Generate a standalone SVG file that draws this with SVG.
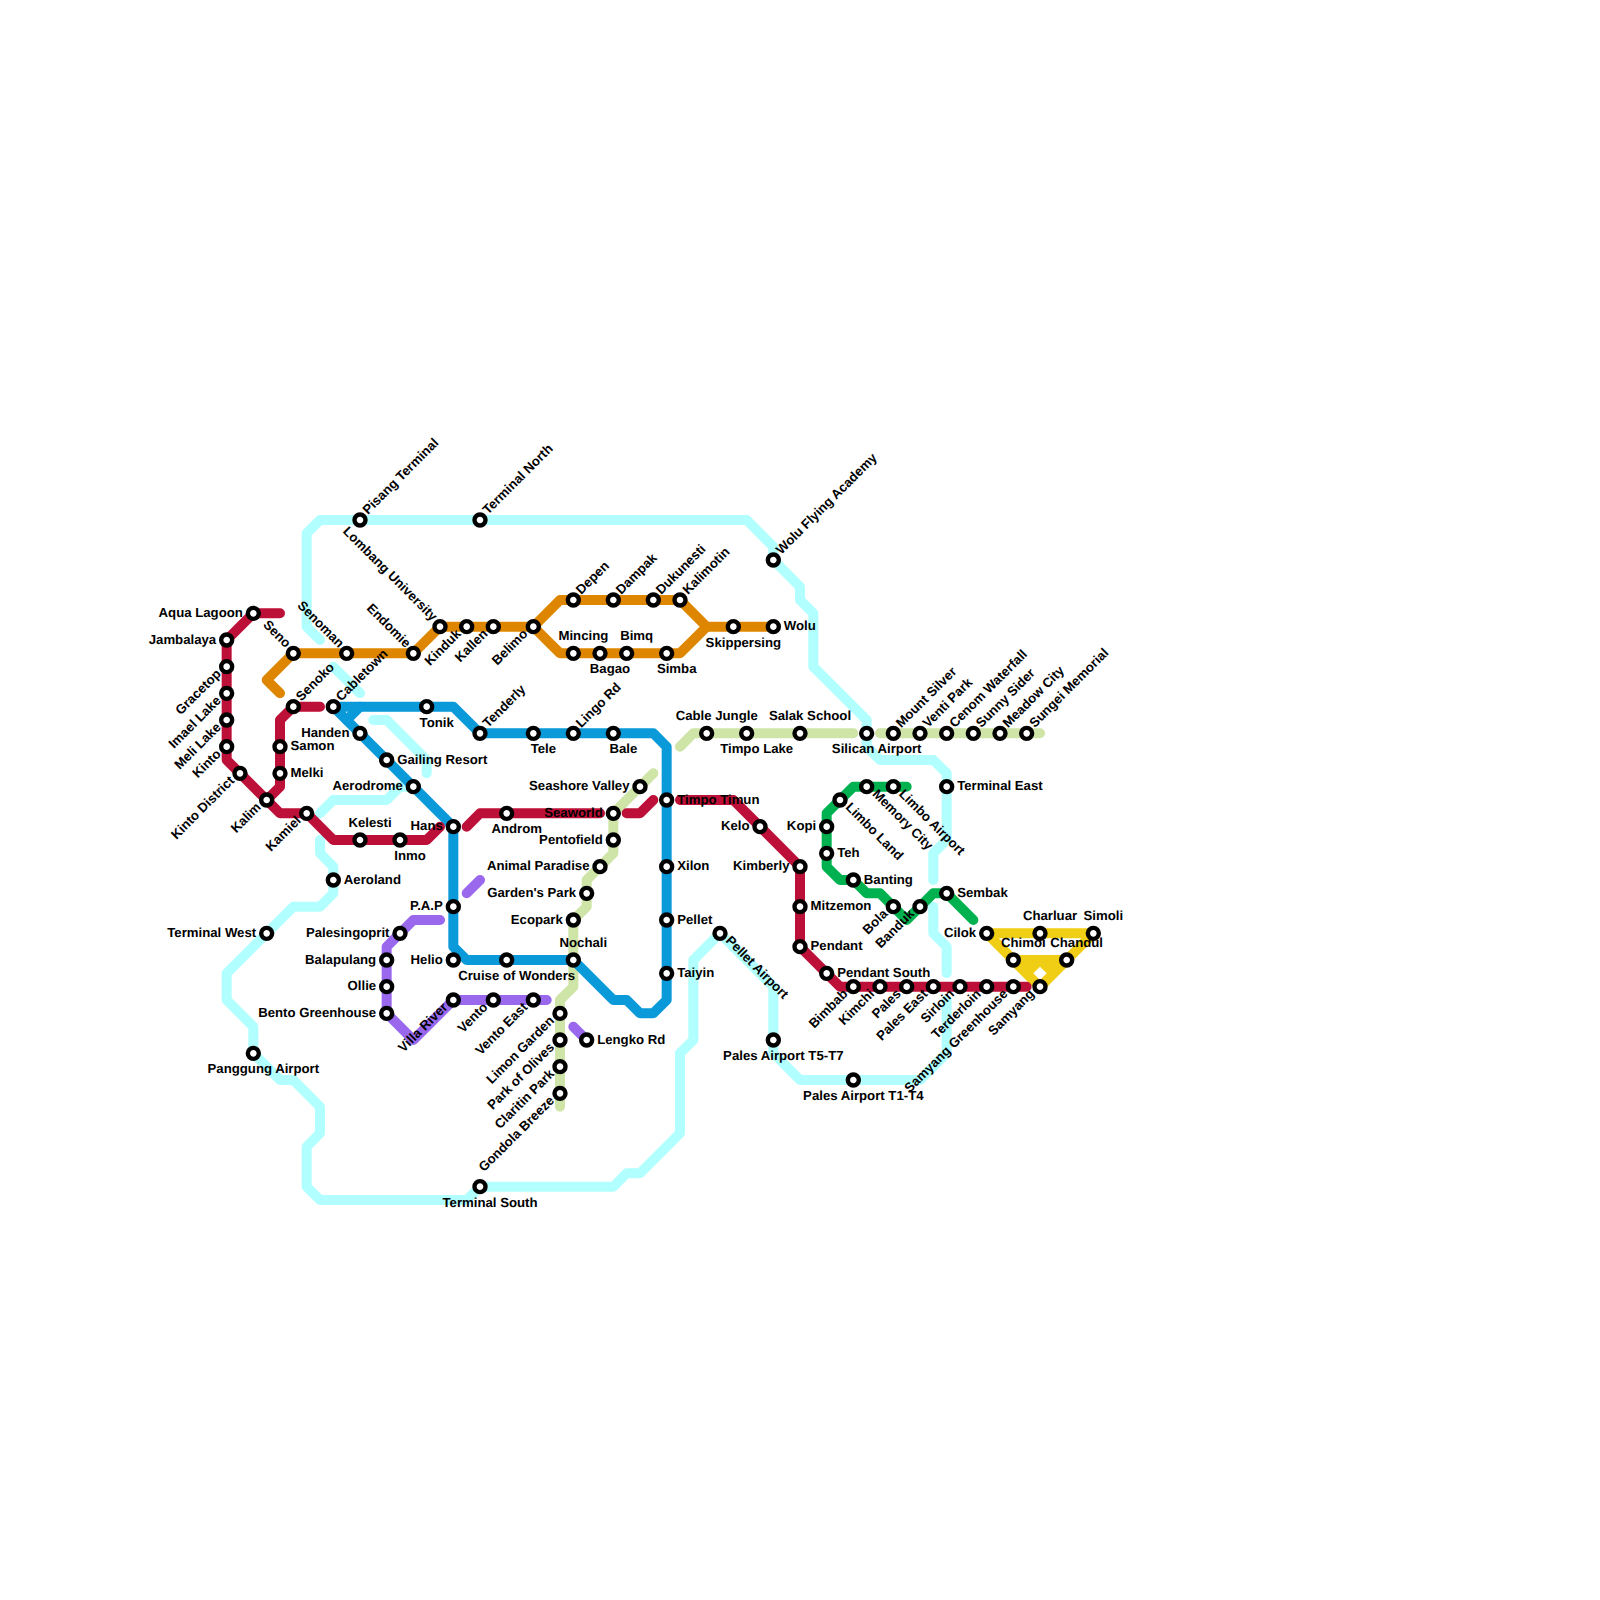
<svg xmlns="http://www.w3.org/2000/svg" width="1600" height="1600" viewBox="0 0 1600 1600">
<style>
.l{fill:none;stroke-width:.75;stroke-linecap:round;stroke-linejoin:round}
.st{fill:#fff;stroke:#000;stroke-width:4.4}
text{font-family:"Liberation Sans",Arial,sans-serif;font-weight:700;font-size:13.2px;fill:#000;text-rendering:geometricPrecision}
.r{transform:translate(10.5px,3.5px)}
.le{text-anchor:end;transform:translate(-10.5px,3.5px)}
.a{text-anchor:middle;transform:translate(10px,-13.3px)}
.b{text-anchor:middle;transform:translate(10px,20px)}
.ur{transform:translate(8px,-5px) rotate(-45deg)}
.ll{text-anchor:end;transform:translate(-5px,8px) rotate(-45deg)}
.ul{text-anchor:end;transform:translate(-8px,-5px) rotate(45deg)}
.lr{transform:translate(5px,8px) rotate(45deg)}
</style>
<defs><circle id="s" class="st" r="5.5"/></defs>
<g id="connectors" transform="scale(13.33333)">
<g stroke="#b1ffff" class="l">
<path d="M24 48L23 47V40L24 39H56L58 41V42L60 44V45L61 46V50L65 54V56L66 57H70L71 58V63L70 64V66"/>
<path d="M70 68V70L71 71V73"/>
<path d="M71 75V79L69 81H60L58 79V74L54 70L52 72V78L51 79V85L48 88H47L46 89H36L35 90H24L23 89V86L24 85V83L22 81H21L19 79V77L17 75V73L22 68H24L25 67V65L24 64V63"/>
<path d="M24 61L25 60H29L30 59H31"/>
<path d="M32 58V57L29 54H28"/>
<path d="M27 52L25 50"/>
</g>
<g stroke="#cfe4a7" class="l">
<path d="M51 56L52 55H64"/>
<path d="M66 55H78"/>
<path d="M49 58L46 61V64L44 66V68L43 69V74L42 75V83"/>
</g>
<g stroke="#f0ce15" class="l">
<path d="M74 70H82L78 74ZM76 72H80" />
<path d="M76 72H80L78 74Z" fill="#f0ce15"/>
<path d="M78 72.5L78.5 73L78 73.5L77.5 73Z" fill="#fff" stroke="none"/>
</g>
<g stroke="#9968ed" class="l">
<path d="M33 69H31L29 71V76L31 78L34 75H41"/>
<path d="M35 67L36 66"/>
<path d="M43 77L44 78"/>
</g>
<g stroke="#0a99d9" class="l">
<path d="M34 62L25 53H34L36 55H49L50 56V75L49 76H48L47 75H46L43 72H35L34 71Z"/>
<path d="M26 54L27 53"/>
</g>
<g stroke="#df8600" class="l">
<path d="M21 52L20 51L22 49H31L33 47H40L42 45H51L53 47H58"/>
<path d="M40 47L42 49H51L53 47"/>
</g>
<g stroke="#00b14f" class="l">
<path d="M68 59H64L62 61V65L63 66H64L65 67H66L68 69L70 67H71L73 69"/>
</g>
<g stroke="#bd1038" class="l">
<path d="M21 46H19L17 48V57L21 61H23L25 63H32L33 62"/>
<path d="M20 60L21 59V54L22 53H24"/>
<path d="M35 62L36 61H45"/>
<path d="M47 61H48L49 60"/>
<path d="M51 60H55L60 65V71L63 74H77"/>
</g>
</g>
<g id="nodes">
<g id="aqua-lagoon" transform="translate(253.33 613.33)"><use href="#s"/><text class="le">Aqua Lagoon</text></g>
<g id="jambalaya" transform="translate(226.67 640)"><use href="#s"/><text class="le">Jambalaya</text></g>
<g id="gracetop" transform="translate(226.67 666.67)"><use href="#s"/><text class="ll">Gracetop</text></g>
<g id="imael-lake" transform="translate(226.67 693.33)"><use href="#s"/><text class="ll">Imael Lake</text></g>
<g id="meli-lake" transform="translate(226.67 720)"><use href="#s"/><text class="ll">Meli Lake</text></g>
<g id="kinto" transform="translate(226.67 746.67)"><use href="#s"/><text class="ll">Kinto</text></g>
<g id="kinto-district" transform="translate(240 773.33)"><use href="#s"/><text class="ll">Kinto District</text></g>
<g id="kalim" transform="translate(266.67 800)"><use href="#s"/><text class="ll">Kalim</text></g>
<g id="samon" transform="translate(280 746.67)"><use href="#s"/><text class="r">Samon</text></g>
<g id="melki" transform="translate(280 773.33)"><use href="#s"/><text class="r">Melki</text></g>
<g id="senoko" transform="translate(293.33 706.67)"><use href="#s"/><text class="ur">Senoko</text></g>
<g id="cabletown" transform="translate(333.33 706.67)"><use href="#s"/><text class="ur">Cabletown</text></g>
<g id="handen" transform="translate(360 733.33)"><use href="#s"/><text class="le">Handen</text></g>
<g id="gailing-resort" transform="translate(386.67 760)"><use href="#s"/><text class="r">Gailing Resort</text></g>
<g id="aerodrome" transform="translate(413.33 786.67)"><use href="#s"/><text class="le">Aerodrome</text></g>
<g id="hans" transform="translate(453.33 826.67)"><use href="#s"/><text class="le">Hans</text></g>
<g id="kamiel" transform="translate(306.67 813.33)"><use href="#s"/><text class="ll">Kamiel</text></g>
<g id="seno" transform="translate(293.33 653.33)"><use href="#s"/><text class="ul">Seno</text></g>
<g id="senoman" transform="translate(346.67 653.33)"><use href="#s"/><text class="ul">Senoman</text></g>
<g id="endomie" transform="translate(413.33 653.33)"><use href="#s"/><text class="ul">Endomie</text></g>
<g id="lombang-university" transform="translate(440 626.67)"><use href="#s"/><text class="ul">Lombang University</text></g>
<g id="kinduk" transform="translate(466.67 626.67)"><use href="#s"/><text class="ll">Kinduk</text></g>
<g id="kallen" transform="translate(493.33 626.67)"><use href="#s"/><text class="ll">Kallen</text></g>
<g id="belimo" transform="translate(533.33 626.67)"><use href="#s"/><text class="ll">Belimo</text></g>
<g id="pisang-terminal" transform="translate(360 520)"><use href="#s"/><text class="ur">Pisang Terminal</text></g>
<g id="terminal-north" transform="translate(480 520)"><use href="#s"/><text class="ur">Terminal North</text></g>
<g id="tonik" transform="translate(426.67 706.67)"><use href="#s"/><text class="b">Tonik</text></g>
<g id="tenderly" transform="translate(480 733.33)"><use href="#s"/><text class="ur">Tenderly</text></g>
<g id="tele" transform="translate(533.33 733.33)"><use href="#s"/><text class="b">Tele</text></g>
<g id="lingo-rd" transform="translate(573.33 733.33)"><use href="#s"/><text class="ur">Lingo Rd</text></g>
<g id="bale" transform="translate(613.33 733.33)"><use href="#s"/><text class="b">Bale</text></g>
<g id="androm" transform="translate(506.67 813.33)"><use href="#s"/><text class="b">Androm</text></g>
<g id="depen" transform="translate(573.33 600)"><use href="#s"/><text class="ur">Depen</text></g>
<g id="dampak" transform="translate(613.33 600)"><use href="#s"/><text class="ur">Dampak</text></g>
<g id="dukunesti" transform="translate(653.33 600)"><use href="#s"/><text class="ur">Dukunesti</text></g>
<g id="kalimotin" transform="translate(680 600)"><use href="#s"/><text class="ur">Kalimotin</text></g>
<g id="skippersing" transform="translate(733.33 626.67)"><use href="#s"/><text class="b">Skippersing</text></g>
<g id="wolu" transform="translate(773.33 626.67)"><use href="#s"/><text class="r">Wolu</text></g>
<g id="wolu-flying-academy" transform="translate(773.33 560)"><use href="#s"/><text class="ur">Wolu Flying Academy</text></g>
<g id="mincing" transform="translate(573.33 653.33)"><use href="#s"/><text class="a">Mincing</text></g>
<g id="bagao" transform="translate(600 653.33)"><use href="#s"/><text class="b">Bagao</text></g>
<g id="bimq" transform="translate(626.67 653.33)"><use href="#s"/><text class="a">Bimq</text></g>
<g id="simba" transform="translate(666.67 653.33)"><use href="#s"/><text class="b">Simba</text></g>
<g id="cable-jungle" transform="translate(706.67 733.33)"><use href="#s"/><text class="a">Cable Jungle</text></g>
<g id="timpo-lake" transform="translate(746.67 733.33)"><use href="#s"/><text class="b">Timpo Lake</text></g>
<g id="salak-school" transform="translate(800 733.33)"><use href="#s"/><text class="a">Salak School</text></g>
<g id="silican-airport" transform="translate(866.67 733.33)"><use href="#s"/><text class="b">Silican Airport</text></g>
<g id="mount-silver" transform="translate(893.33 733.33)"><use href="#s"/><text class="ur">Mount Silver</text></g>
<g id="venti-park" transform="translate(920 733.33)"><use href="#s"/><text class="ur">Venti Park</text></g>
<g id="cenom-waterfall" transform="translate(946.67 733.33)"><use href="#s"/><text class="ur">Cenom Waterfall</text></g>
<g id="sunny-sider" transform="translate(973.33 733.33)"><use href="#s"/><text class="ur">Sunny Sider</text></g>
<g id="meadow-city" transform="translate(1000 733.33)"><use href="#s"/><text class="ur">Meadow City</text></g>
<g id="sungei-memorial" transform="translate(1026.67 733.33)"><use href="#s"/><text class="ur">Sungei Memorial</text></g>
<g id="seashore-valley" transform="translate(640 786.67)"><use href="#s"/><text class="le">Seashore Valley</text></g>
<g id="seaworld" transform="translate(613.33 813.33)"><use href="#s"/><text class="le">Seaworld</text></g>
<g id="pentofield" transform="translate(613.33 840)"><use href="#s"/><text class="le">Pentofield</text></g>
<g id="animal-paradise" transform="translate(600 866.67)"><use href="#s"/><text class="le">Animal Paradise</text></g>
<g id="gardens-park" transform="translate(586.67 893.33)"><use href="#s"/><text class="le">Garden's Park</text></g>
<g id="ecopark" transform="translate(573.33 920)"><use href="#s"/><text class="le">Ecopark</text></g>
<g id="nochali" transform="translate(573.33 960)"><use href="#s"/><text class="a">Nochali</text></g>
<g id="limon-garden" transform="translate(560 1013.33)"><use href="#s"/><text class="ll">Limon Garden</text></g>
<g id="park-of-olives" transform="translate(560 1040)"><use href="#s"/><text class="ll">Park of Olives</text></g>
<g id="claritin-park" transform="translate(560 1066.67)"><use href="#s"/><text class="ll">Claritin Park</text></g>
<g id="gondola-breeze" transform="translate(560 1093.33)"><use href="#s"/><text class="ll">Gondola Breeze</text></g>
<g id="lengko-rd" transform="translate(586.67 1040)"><use href="#s"/><text class="r">Lengko Rd</text></g>
<g id="timpo-timun" transform="translate(666.67 800)"><use href="#s"/><text class="r">Timpo Timun</text></g>
<g id="xilon" transform="translate(666.67 866.67)"><use href="#s"/><text class="r">Xilon</text></g>
<g id="pellet" transform="translate(666.67 920)"><use href="#s"/><text class="r">Pellet</text></g>
<g id="taiyin" transform="translate(666.67 973.33)"><use href="#s"/><text class="r">Taiyin</text></g>
<g id="pellet-airport" transform="translate(720 933.33)"><use href="#s"/><text class="lr">Pellet Airport</text></g>
<g id="pales-airport-t5" transform="translate(773.33 1040)"><use href="#s"/><text class="b">Pales Airport T5-T7</text></g>
<g id="pales-airport-t1" transform="translate(853.33 1080)"><use href="#s"/><text class="b">Pales Airport T1-T4</text></g>
<g id="kelo" transform="translate(760 826.67)"><use href="#s"/><text class="le">Kelo</text></g>
<g id="kimberly" transform="translate(800 866.67)"><use href="#s"/><text class="le">Kimberly</text></g>
<g id="mitzemon" transform="translate(800 906.67)"><use href="#s"/><text class="r">Mitzemon</text></g>
<g id="pendant" transform="translate(800 946.67)"><use href="#s"/><text class="r">Pendant</text></g>
<g id="pendant-south" transform="translate(826.67 973.33)"><use href="#s"/><text class="r">Pendant South</text></g>
<g id="bimbab" transform="translate(853.33 986.67)"><use href="#s"/><text class="ll">Bimbab</text></g>
<g id="kimchi" transform="translate(880 986.67)"><use href="#s"/><text class="ll">Kimchi</text></g>
<g id="pales" transform="translate(906.67 986.67)"><use href="#s"/><text class="ll">Pales</text></g>
<g id="pales-east" transform="translate(933.33 986.67)"><use href="#s"/><text class="ll">Pales East</text></g>
<g id="sirloin" transform="translate(960 986.67)"><use href="#s"/><text class="ll">Sirloin</text></g>
<g id="terderloin" transform="translate(986.67 986.67)"><use href="#s"/><text class="ll">Terderloin</text></g>
<g id="samyang-greenhouse" transform="translate(1013.33 986.67)"><use href="#s"/><text class="ll">Samyang Greenhouse</text></g>
<g id="samyang" transform="translate(1040 986.67)"><use href="#s"/><text class="ll">Samyang</text></g>
<g id="terminal-east" transform="translate(946.67 786.67)"><use href="#s"/><text class="r">Terminal East</text></g>
<g id="memory-city" transform="translate(866.67 786.67)"><use href="#s"/><text class="lr">Memory City</text></g>
<g id="limbo-airport" transform="translate(893.33 786.67)"><use href="#s"/><text class="lr">Limbo Airport</text></g>
<g id="limbo-land" transform="translate(840 800)"><use href="#s"/><text class="lr">Limbo Land</text></g>
<g id="kopi" transform="translate(826.67 826.67)"><use href="#s"/><text class="le">Kopi</text></g>
<g id="teh" transform="translate(826.67 853.33)"><use href="#s"/><text class="r">Teh</text></g>
<g id="banting" transform="translate(853.33 880)"><use href="#s"/><text class="r">Banting</text></g>
<g id="bola" transform="translate(893.33 906.67)"><use href="#s"/><text class="ll">Bola</text></g>
<g id="banduk" transform="translate(920 906.67)"><use href="#s"/><text class="ll">Banduk</text></g>
<g id="sembak" transform="translate(946.67 893.33)"><use href="#s"/><text class="r">Sembak</text></g>
<g id="cilok" transform="translate(986.67 933.33)"><use href="#s"/><text class="le">Cilok</text></g>
<g id="charluar" transform="translate(1040 933.33)"><use href="#s"/><text class="a">Charluar</text></g>
<g id="simoli" transform="translate(1093.33 933.33)"><use href="#s"/><text class="a">Simoli</text></g>
<g id="chimoi" transform="translate(1013.33 960)"><use href="#s"/><text class="a">Chimoi</text></g>
<g id="chandul" transform="translate(1066.67 960)"><use href="#s"/><text class="a">Chandul</text></g>
<g id="kelesti" transform="translate(360 840)"><use href="#s"/><text class="a">Kelesti</text></g>
<g id="inmo" transform="translate(400 840)"><use href="#s"/><text class="b">Inmo</text></g>
<g id="aeroland" transform="translate(333.33 880)"><use href="#s"/><text class="r">Aeroland</text></g>
<g id="terminal-west" transform="translate(266.67 933.33)"><use href="#s"/><text class="le">Terminal West</text></g>
<g id="pap" transform="translate(453.33 906.67)"><use href="#s"/><text class="le">P.A.P</text></g>
<g id="palesingoprit" transform="translate(400 933.33)"><use href="#s"/><text class="le">Palesingoprit</text></g>
<g id="balapulang" transform="translate(386.67 960)"><use href="#s"/><text class="le">Balapulang</text></g>
<g id="helio" transform="translate(453.33 960)"><use href="#s"/><text class="le">Helio</text></g>
<g id="cruise-of-wonders" transform="translate(506.67 960)"><use href="#s"/><text class="b">Cruise of Wonders</text></g>
<g id="ollie" transform="translate(386.67 986.67)"><use href="#s"/><text class="le">Ollie</text></g>
<g id="bento-greenhouse" transform="translate(386.67 1013.33)"><use href="#s"/><text class="le">Bento Greenhouse</text></g>
<g id="villa-river" transform="translate(453.33 1000)"><use href="#s"/><text class="ll">Villa River</text></g>
<g id="vento" transform="translate(493.33 1000)"><use href="#s"/><text class="ll">Vento</text></g>
<g id="vento-east" transform="translate(533.33 1000)"><use href="#s"/><text class="ll">Vento East</text></g>
<g id="panggung-airport" transform="translate(253.33 1053.33)"><use href="#s"/><text class="b">Panggung Airport</text></g>
<g id="terminal-south" transform="translate(480 1186.67)"><use href="#s"/><text class="b">Terminal South</text></g>
</g>
</svg>
